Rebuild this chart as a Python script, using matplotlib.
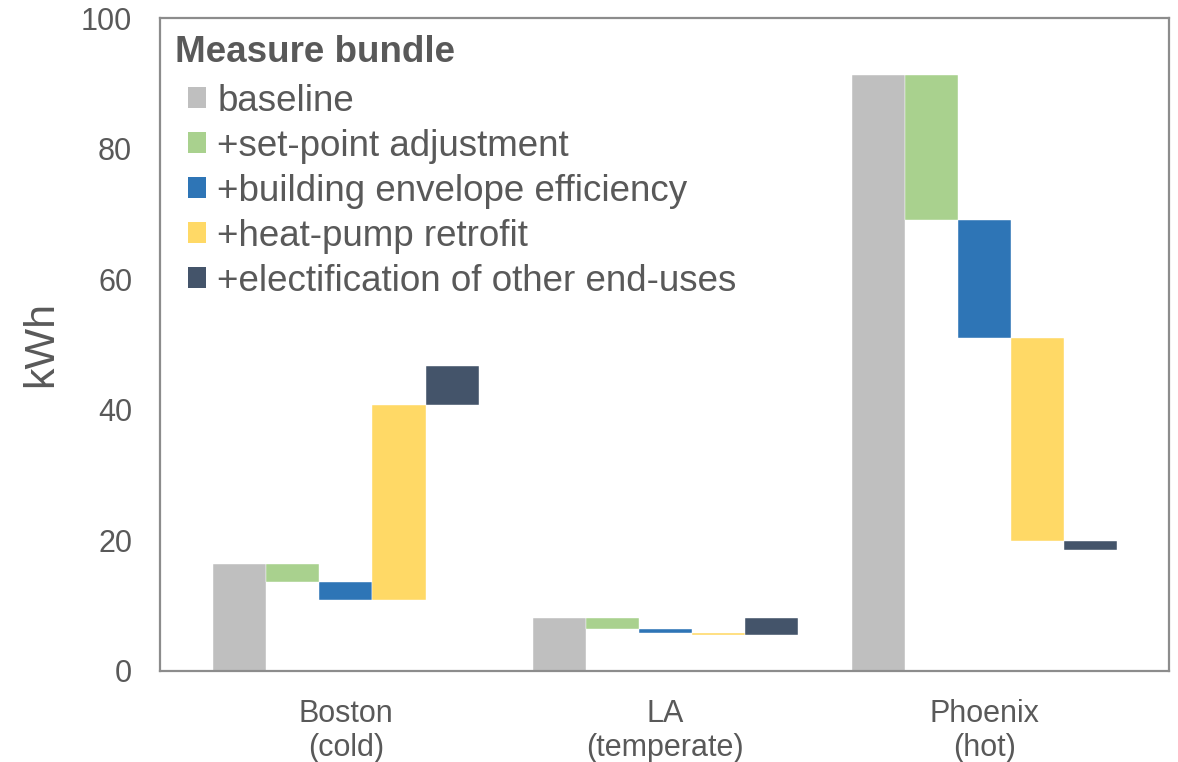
import matplotlib
matplotlib.use("Agg")
import matplotlib.pyplot as plt
from matplotlib.patches import Patch

plt.rcParams['font.family'] = ['Liberation Sans', 'DejaVu Sans']

cities = ["Boston\n(cold)", "LA\n(temperate)", "Phoenix\n(hot)"]
measures = ["baseline", "+set-point adjustment", "+building envelope efficiency",
            "+heat-pump retrofit", "+electification of other end-uses"]
colors = ["#BFBFBF", "#A9D18E", "#2E75B6", "#FFD966", "#44546A"]

# cumulative energy level (kWh) after each measure bundle step
boston = [16.4, 13.6, 10.9, 40.8, 46.7]
la = [8.1, 6.4, 5.85, 5.55, 8.1]
phoenix = [91.3, 69.1, 51.0, 19.9, 18.6]
levels = [boston, la, phoenix]
yticks = [0, 20, 40, 60, 80, 100]

txt = "#595959"
W, H = 1178, 762
fig = plt.figure(figsize=(W/100, H/100), dpi=100)
ax = fig.add_axes([160/W, 1-671/H, (1169-160)/W, (671-18)/H])

w = 0.166
for ci, lv in enumerate(levels):
    prev = 0.0
    for mi, val in enumerate(lv):
        x = ci + (mi - 2) * w
        lo, hi = min(prev, val), max(prev, val)
        ax.bar(x, hi - lo, bottom=lo, width=w, color=colors[mi],
               edgecolor="white", linewidth=0.3, zorder=2)
        prev = val

ax.set_xlim(-0.5825, 2.5775)
ax.set_ylim(0, 100)
ax.set_yticks(yticks)
ax.set_xticks(range(len(cities)))
ax.set_xticklabels(cities, fontsize=22, color=txt, linespacing=1.2)
ax.tick_params(axis='y', labelsize=22, colors=txt, length=0, pad=20)
ax.tick_params(axis='x', length=0, pad=20)
ax.set_ylabel("kWh", fontsize=31, color=txt, labelpad=14)
for s in ax.spines.values():
    s.set_color("#8C8C8C")
    s.set_linewidth(1.6)

# legend title
fig.text(175/W, 1-53/H, "Measure bundle", fontsize=26.5, fontweight="bold",
         color=txt, ha="left", va="center")

handles = [Patch(facecolor=c, edgecolor='none') for c in colors]
leg = fig.legend(handles, measures, loc="upper left",
                 bbox_to_anchor=(188/W, 1-84/H),
                 frameon=False, fontsize=26.5,
                 handlelength=0.5, handleheight=0.5, handletextpad=0.3,
                 labelspacing=0.27, borderpad=0, borderaxespad=0)
for t in leg.get_texts():
    t.set_color(txt)

fig.savefig("out.png", dpi=100)
